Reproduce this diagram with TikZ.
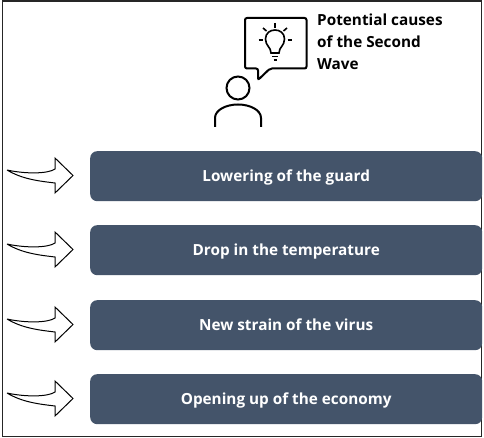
\documentclass[tikz,border=0pt]{standalone}
\usepackage{fontspec}
\setmainfont{Open Sans}
\definecolor{slatebox}{HTML}{44546A}
\newcommand{\boxlabel}[1]{\raisebox{-2pt}[10pt][4pt]{#1}}
\tikzset{
 x=1pt,y=-1pt,
 causebox/.style={draw=none,fill=slatebox,rounded corners=7pt,minimum width=392pt,minimum height=50pt,inner sep=0pt,text=white,font=\fontsize{15.3pt}{18pt}\selectfont\bfseries,anchor=north west},
 icon/.style={draw=black,line width=2pt,line cap=butt,line join=miter},
 thin icon/.style={draw=black,line width=1.6pt},
 curved arrow/.style={draw=black,line width=1pt,fill=white,line join=miter,miter limit=3},
 title text/.style={align=left,anchor=north west,inner sep=0pt,font=\fontsize{15.3pt}{22pt}\selectfont\bfseries,text=black}
}
\newcommand{\sidearrow}[1]{%
 \draw[curved arrow,yshift=-#1pt] (7,170) .. controls (25,174) and (48,174) .. (55,169) -- (55,158) -- (73,175.5) -- (55,193) -- (55,183) .. controls (38,181) and (22,179) .. cycle;}
\begin{document}
\begin{tikzpicture}
\useasboundingbox (0,0) rectangle (484,438);
\fill[white] (0,0) rectangle (484,438);
\draw[line width=1.4pt,draw=black!85] (2.2,1) rectangle (481.2,436.3);
% boxes
\node[causebox] (b1) at (90,151) {\boxlabel{Lowering of the guard}};
\node[causebox] (b2) at (90,225) {\boxlabel{Drop in the temperature}};
\node[causebox] (b3) at (90,300) {\boxlabel{New strain of the virus}};
\node[causebox] (b4) at (90,374) {\boxlabel{Opening up of the economy}};
% arrows
\sidearrow{0}
\sidearrow{74}
\sidearrow{149}
\sidearrow{223}
% title
\node[title text] (t) at (317,13.5) {Potential causes\\of the Second\\Wave};
% bubble
\draw[icon,rounded corners=2pt] (258,68.5) -- (245,68.5) -- (245,18) -- (306.5,18) -- (306.5,68.5) -- (270,68.5) -- (258,80) -- cycle;
% person
\draw[icon] (238,88) circle (11.5);
\draw[icon] (215,127) -- (215,118) .. controls (215,110) and (226,104.5) .. (238,104.5) .. controls (250,104.5) and (261,110) .. (261,118) -- (261,127);
% bulb
\draw[thin icon] (271,53) .. controls (271,47) and (265.5,46) .. (265.5,39) .. controls (265.5,27) and (284.5,27) .. (284.5,39) .. controls (284.5,46) and (279,47) .. (279,53) -- cycle;
\draw[thin icon] (272,56.5) -- (278,56.5);
\draw[thin icon] (273.5,60) -- (276.5,60);
\draw[thin icon] (275,23) -- (275,28);
\draw[thin icon] (263,28) -- (266.5,31);
\draw[thin icon] (287,28) -- (283.5,31);
\draw[thin icon] (258.5,40) -- (262.5,40);
\draw[thin icon] (287.5,40) -- (291.5,40);
\end{tikzpicture}
\end{document}
